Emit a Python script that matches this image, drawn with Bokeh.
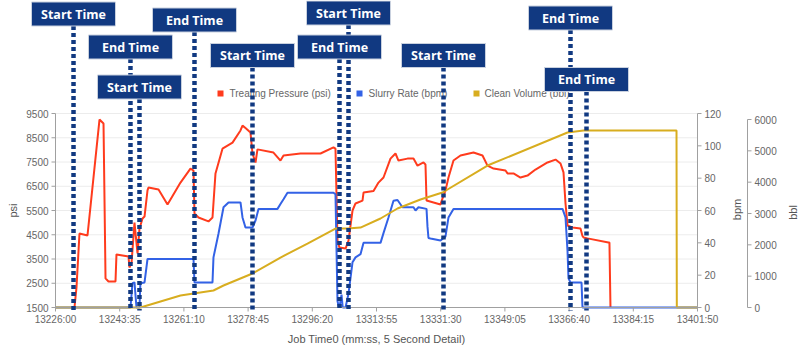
import math
from bokeh.plotting import figure
from bokeh.models import Range1d
from bokeh.core.properties import value
from bokeh.embed import file_html
from bokeh.resources import INLINE

# ---------------- data ----------------
tick_labels = ["13226:00", "13243:35", "13261:10", "13278:45", "13296:20",
               "13313:55", "13331:30", "13349:05", "13366:40", "13384:15",
               "13401:50"]

# seconds after 13226:00
pressure_t = [312, 345, 394, 526, 723, 789, 822, 871, 986, 1002, 1200, 1215,
              1250, 1298, 1348, 1380, 1430, 1463, 1512, 1528, 1693, 1841,
              2054, 2218, 2268, 2284, 2350, 2514, 2580, 2629, 2744, 2909,
              3040, 3073, 3122, 3204, 3237, 3287, 3319, 3582, 3697, 3747,
              4026, 4355, 4568, 4601, 4634, 4667, 4766, 4815, 4881, 4930,
              5045, 5062, 5226, 5308, 5390, 5505, 5587, 5636, 5784, 5883,
              5949, 6047, 6080, 6097, 6327, 6360, 6409, 6458, 6540, 6655,
              6869, 7017, 7099, 7198, 7395, 7428, 7526, 7641, 7756, 7888,
              8085, 8217, 8299, 8348, 8381, 8414, 8496, 8627, 8660, 8677,
              8742, 9087, 9103, 9120]
pressure_psi = [1500, 2330, 4550, 4470, 9250, 9090, 2700, 2570, 2570, 3690,
                3600, 3150, 3350, 5000, 3730, 4750, 5170, 5250, 6330, 6450,
                6370, 5750, 6650, 7230, 7150, 5380, 5210, 5050, 5210, 7030,
                8050, 8300, 8800, 9000, 8900, 8720, 7850, 7480, 8020, 7890,
                7560, 7770, 7850, 7850, 8100, 8050, 4260, 3970, 3930, 4260,
                5500, 5790, 5910, 6240, 6300, 6650, 6860, 7640, 7850, 7560,
                7640, 7640, 7350, 7480, 7400, 5910, 5750, 6000, 6330, 6860,
                7560, 7770, 7890, 7770, 7350, 7230, 7150, 7030, 7030, 6860,
                6940, 7190, 7480, 7600, 7440, 7070, 5790, 4880, 4800, 4760,
                4450, 4390, 4350, 4180, 4180, 1500]

rate_t = [0, 1232, 1265, 1298, 1331, 1380, 1395, 1463, 1512, 2268, 2284,
          2580, 2596, 2679, 2761, 2843, 3040, 3073, 3122, 3237, 3287, 3336,
          3648, 3697, 3747, 3812, 4568, 4601, 4634, 4651, 4667, 4700, 4720,
          4766, 4815, 4881, 4930, 5012, 5062, 5341, 5390, 5472, 5554, 5620,
          5702, 5883, 5916, 5965, 6097, 6113, 6129, 6162, 6327, 6409, 6458,
          6540, 8332, 8381, 8414, 8430, 8463, 8644, 8660, 10550]
rate_bpm = [0, 0, 15, 15.5, 0, 0, 15, 15.5, 30, 30, 15.5,
            15.5, 31, 45.8, 62, 65, 65, 55.7, 49.5, 49.5, 53.8, 61,
            61, 64, 67, 71, 71, 70, 4, 1, 0, 8, 0,
            0, 8.6, 28, 31, 33, 40, 40, 46, 55.7, 66, 66.5,
            62, 62, 60, 62, 61, 50, 43, 42.7, 41.4, 44, 55.7,
            61, 61, 55.7, 35, 18, 15.5, 15.5, 0, 0]

volume_t = [0, 1397, 2054, 2596, 2761, 3237, 3697, 4141, 4601, 4798, 5012,
            5341, 5620, 5998, 6360, 7099, 8414, 8677, 10205, 10210, 10550]
volume_bbl = [0, 0, 383, 542, 702, 1085, 1595, 2042, 2520, 2520, 2550,
              2840, 3160, 3446, 3670, 4531, 5584, 5648, 5648, 0, 0]

marker_t = [296, 1232, 1380, 2284, 3237, 4667, 4815, 6376, 8463, 8726]
marker_text = ["Start Time", "End Time", "Start Time", "End Time",
               "Start Time", "End Time", "Start Time", "Start Time",
               "End Time", "End Time"]

series_names = ["Treating Pressure (psi)", "Slurry Rate (bpm)",
                "Clean Volume (bbl)"]
x_title = "Job Time0 (mm:ss, 5 Second Detail)"

psi_ticks = list(range(1500, 9501, 1000))
bpm_ticks = list(range(0, 121, 20))
bbl_ticks = list(range(0, 6001, 1000))

# ---------------- layout / styles (pixels) ----------------
W, H = 800, 348
X_LEFT_PX, X_RIGHT_PX = 55, 697        # plot area left / right
Y_BOTTOM_PX, Y_TOP_PX = 307, 113       # psi / bpm axis extent
BBL_TOP_PX = 119                       # bbl axis top
BPM_AX_PX, BBL_AX_PX = 697, 747
XLABEL_Y_PX, XTITLE_Y_PX = 319, 338
box_center_px = [13.5, 46.5, 86.5, 19.5, 55, 46.5, 12.5, 55, 17.5, 79]
BOX_W, BOX_H = 84, 24
legend_sw_px = [220, 359, 476]
legend_txt_px = [229, 368, 484]
LEGEND_Y_PX = 93

RED = "#ff3b1d"
BLUE = "#3362e6"
GOLD = "#d8ad1f"
NAVY = "#113981"
TXT = "#666666"
TTL = "#555555"
AXC = "#a0a0a0"
FONT = "Liberation Sans"
LBL_SIZE = "10px"


def to_sec(lbl):
    m, s = lbl.split(":")
    return int(m) * 60 + int(s)


T0 = to_sec(tick_labels[0])
tick_pos = [to_sec(l) - T0 for l in tick_labels]
k = (tick_pos[-1] - tick_pos[0]) / float(X_RIGHT_PX - X_LEFT_PX)


def lin_range(v0, v1, px0, px1):
    """data range over the full canvas height given two value/pixel pairs"""
    s = (v1 - v0) / float(px0 - px1)
    return Range1d(v0 - (H - px0) * s, v0 + px0 * s)


p = figure(width=W, height=H, output_backend="svg", toolbar_location=None,
           x_range=Range1d(tick_pos[0] - X_LEFT_PX * k,
                           tick_pos[0] + (W - X_LEFT_PX) * k),
           y_range=lin_range(psi_ticks[0], psi_ticks[-1], Y_BOTTOM_PX, Y_TOP_PX),
           min_border=0)
p.outline_line_color = None
p.background_fill_color = "white"
p.border_fill_color = "white"
p.extra_x_ranges = {"pxx": Range1d(0, W)}
p.extra_y_ranges = {
    "bpm": lin_range(bpm_ticks[0], bpm_ticks[-1], Y_BOTTOM_PX, Y_TOP_PX),
    "bbl": lin_range(bbl_ticks[0], bbl_ticks[-1], Y_BOTTOM_PX, BBL_TOP_PX),
    "px": Range1d(H, 0)}
p.xaxis.visible = False
p.yaxis.visible = False
p.xgrid.visible = False
p.ygrid.visible = False

# grid lines at psi ticks
p.segment(x0=[X_LEFT_PX] * len(psi_ticks), x1=[X_RIGHT_PX] * len(psi_ticks),
          y0=psi_ticks, y1=psi_ticks, x_range_name="pxx",
          line_color="#ececec", line_width=1)

# series
p.line(pressure_t, pressure_psi, line_color=RED, line_width=2)
p.line(rate_t, rate_bpm, line_color=BLUE, line_width=2, y_range_name="bpm")
p.line(volume_t, volume_bbl, line_color=GOLD, line_width=2, y_range_name="bbl")

# x axis
p.segment(x0=[tick_pos[0]], x1=[tick_pos[-1]], y0=[Y_BOTTOM_PX],
          y1=[Y_BOTTOM_PX], y_range_name="px", line_color=AXC, line_width=1)
p.segment(x0=tick_pos, x1=tick_pos, y0=[Y_BOTTOM_PX] * len(tick_pos),
          y1=[Y_BOTTOM_PX + 4] * len(tick_pos), y_range_name="px",
          line_color=AXC, line_width=1)
p.text(x=tick_pos, y=[XLABEL_Y_PX] * len(tick_pos), text=tick_labels,
       y_range_name="px", text_align="center", text_baseline="middle",
       text_font=value(FONT), text_font_size=LBL_SIZE, text_color=TXT)
p.text(x=[(X_LEFT_PX + X_RIGHT_PX) / 2], y=[XTITLE_Y_PX], text=[x_title],
       x_range_name="pxx", y_range_name="px", text_align="center",
       text_baseline="middle", text_font=value(FONT), text_font_size="11px",
       text_color=TTL)


# y axes
def y_axis(ax_px, ticks, rng, side, title, title_px, title_y_px):
    kw = dict(x_range_name="pxx")
    if rng:
        kw["y_range_name"] = rng
    p.segment(x0=[ax_px], x1=[ax_px], y0=[ticks[0]], y1=[ticks[-1]],
              line_color=AXC, line_width=1, **kw)
    d = -4 if side == "left" else 4
    p.segment(x0=[ax_px] * len(ticks), x1=[ax_px + d] * len(ticks),
              y0=ticks, y1=ticks, line_color=AXC, line_width=1, **kw)
    lx = ax_px - 7 if side == "left" else ax_px + 7
    p.text(x=[lx] * len(ticks), y=ticks, text=[str(t) for t in ticks],
           text_align="right" if side == "left" else "left",
           text_baseline="middle", text_font=value(FONT),
           text_font_size=LBL_SIZE, text_color=TXT, **kw)
    p.text(x=[title_px], y=[title_y_px], text=[title], angle=math.pi / 2,
           text_align="center", text_baseline="middle", text_font=value(FONT),
           text_font_size="11px", text_color=TTL,
           x_range_name="pxx", y_range_name="px")


y_axis(X_LEFT_PX, psi_ticks, None, "left", "psi", 12, 210)
y_axis(BPM_AX_PX, bpm_ticks, "bpm", "right", "bpm", 736, 209)
y_axis(BBL_AX_PX, bbl_ticks, "bbl", "right", "bbl", 792, 212)

# legend
for c, sx, tx, name in zip((RED, BLUE, GOLD), legend_sw_px, legend_txt_px,
                           series_names):
    p.rect(x=[sx], y=[LEGEND_Y_PX], width=6, height=6, fill_color=c,
           line_color=None, x_range_name="pxx", y_range_name="px")
    p.text(x=[tx], y=[LEGEND_Y_PX], text=[name], text_align="left",
           text_baseline="middle", text_font=value(FONT),
           text_font_size="10px", text_color=TXT,
           x_range_name="pxx", y_range_name="px")

# marker lines and boxes
p.segment(x0=marker_t, x1=marker_t,
          y0=[c + BOX_H / 2 for c in box_center_px],
          y1=[Y_BOTTOM_PX + 3] * len(marker_t), y_range_name="px",
          line_color=NAVY, line_width=4.5, line_dash="4 3")
p.rect(x=marker_t, y=box_center_px, width=BOX_W, height=BOX_H,
       width_units="screen", height_units="screen", y_range_name="px",
       fill_color=NAVY, line_color="#c9d1df", line_width=1)
p.text(x=marker_t, y=box_center_px, text=marker_text, y_range_name="px",
       text_align="center", text_baseline="middle",
       text_font=value("Open Sans"), text_font_style="bold",
       text_font_size="12.5px", text_color="white")

open("out.html", "w").write(file_html(p, INLINE))
